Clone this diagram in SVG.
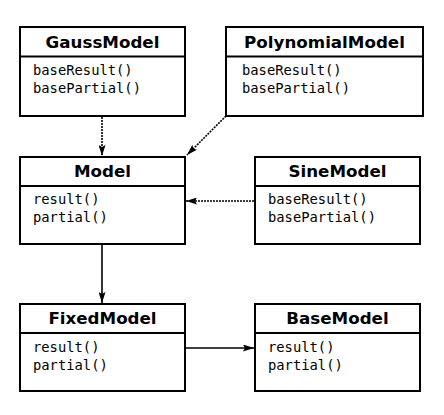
<svg xmlns="http://www.w3.org/2000/svg" width="444" height="415" viewBox="0 0 444 415">
<style>
.box{fill:#fff;stroke:#000;stroke-width:2}
.ln{stroke:#000;stroke-width:2}
.t{font-family:"DejaVu Sans",sans-serif;font-weight:bold;font-size:16.7px;text-anchor:middle;fill:#000}
.m{font-family:"DejaVu Sans Mono",monospace;font-size:13.8px;fill:#000}
.c{fill:none;stroke:#000;stroke-width:1.6}
.d{stroke-dasharray:2,1}
</style>
<defs>
<marker id="a" viewBox="0 0 11 7" refX="11" refY="3.5" markerWidth="11" markerHeight="7" markerUnits="userSpaceOnUse" orient="auto">
<path d="M0,0 L11,3.5 L0,7 L2,3.5 Z" fill="#000"/>
</marker>
</defs>
<rect width="444" height="415" fill="#fff"/>
<g id="connectors">
<line class="c d" x1="102" y1="117" x2="102" y2="156" marker-end="url(#a)"/>
<line class="c d" x1="226" y1="116" x2="187" y2="155" marker-end="url(#a)"/>
<line class="c d" x1="254" y1="201" x2="186" y2="201" marker-end="url(#a)"/>
<line class="c" x1="102" y1="245" x2="102" y2="303" marker-end="url(#a)"/>
<line class="c" x1="186" y1="348" x2="254" y2="348" marker-end="url(#a)"/>
</g>
<g id="GaussModel">
<rect class="box" x="20" y="27" width="165" height="89"/>
<line class="ln" x1="20" y1="56.5" x2="185" y2="56.5"/>
<text class="t" x="102.5" y="48">GaussModel</text>
<text class="m" x="33" y="75">baseResult()</text>
<text class="m" x="33" y="93">basePartial()</text>
</g>
<g id="PolynomialModel">
<rect class="box" x="226" y="27" width="197" height="89"/>
<line class="ln" x1="226" y1="56.5" x2="423" y2="56.5"/>
<text class="t" x="324.5" y="48">PolynomialModel</text>
<text class="m" x="242" y="75">baseResult()</text>
<text class="m" x="242" y="93">basePartial()</text>
</g>
<g id="Model">
<rect class="box" x="20" y="157" width="165" height="87"/>
<line class="ln" x1="20" y1="186" x2="185" y2="186"/>
<text class="t" x="102.5" y="177">Model</text>
<text class="m" x="33" y="204">result()</text>
<text class="m" x="33" y="222">partial()</text>
</g>
<g id="SineModel">
<rect class="box" x="255" y="157" width="165" height="87"/>
<line class="ln" x1="255" y1="186" x2="420" y2="186"/>
<text class="t" x="337.5" y="177">SineModel</text>
<text class="m" x="268" y="204">baseResult()</text>
<text class="m" x="268" y="222">basePartial()</text>
</g>
<g id="FixedModel">
<rect class="box" x="20" y="304" width="165" height="87"/>
<line class="ln" x1="20" y1="333" x2="185" y2="333"/>
<text class="t" x="102.5" y="324">FixedModel</text>
<text class="m" x="33" y="352">result()</text>
<text class="m" x="33" y="370">partial()</text>
</g>
<g id="BaseModel">
<rect class="box" x="255" y="304" width="165" height="87"/>
<line class="ln" x1="255" y1="333" x2="420" y2="333"/>
<text class="t" x="337.5" y="324">BaseModel</text>
<text class="m" x="268" y="352">result()</text>
<text class="m" x="268" y="370">partial()</text>
</g>
</svg>
